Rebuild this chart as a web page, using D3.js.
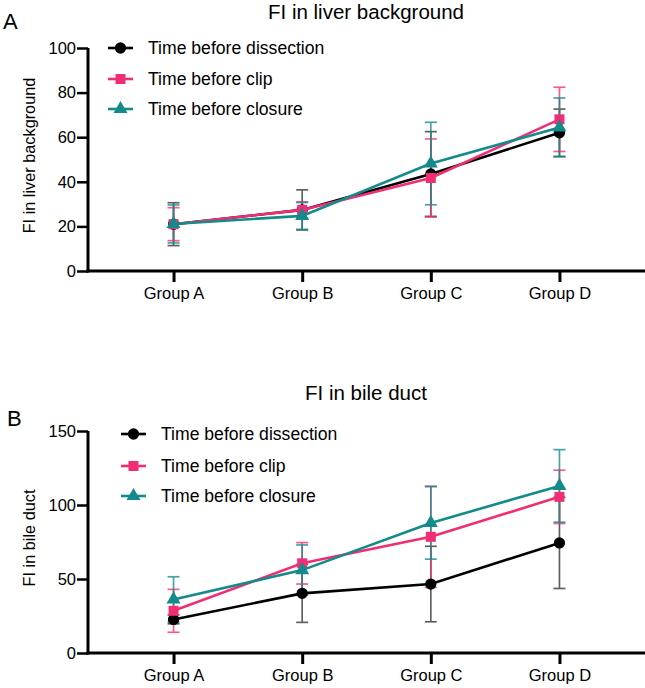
<!DOCTYPE html>
<html><head><meta charset="utf-8">
<script src="https://cdn.jsdelivr.net/npm/d3@7"></script>
<style>body{margin:0;background:#fff}svg{display:block}text{font-family:"Liberation Sans",Arial,sans-serif}</style>
</head><body>
<svg id="chart" width="645" height="688"></svg>
<script>
const groups = ["Group A", "Group B", "Group C", "Group D"];
const seriesNames = ["Time before dissection", "Time before clip", "Time before closure"];
const seriesColors = ["#000000", "#f12e73", "#148a8b"];

// Panel A: FI in liver background (mean, SD)
const liverDissectionMean = [21, 27.4, 43.5, 62];
const liverDissectionSD   = [9.6, 9, 19, 10.6];
const liverClipMean       = [21, 27.4, 41.7, 68];
const liverClipSD         = [7.4, 3.6, 17.5, 14.4];
const liverClosureMean    = [21.1, 24.7, 48.2, 64.4];
const liverClosureSD      = [8.5, 6, 18.5, 13.2];
const liverTicks = [0, 20, 40, 60, 80, 100];

// Panel B: FI in bile duct (mean, SD)
const bileDissectionMean = [22.7, 40.3, 46.6, 74.4];
const bileDissectionSD   = [3, 19.6, 25.5, 30.8];
const bileClipMean       = [28.5, 60.6, 78.5, 105.5];
const bileClipSD         = [14.5, 14, 34.2, 18];
const bileClosureMean    = [36.2, 56, 87.9, 112.9];
const bileClosureSD      = [15.3, 17, 24.5, 24.5];
const bileTicks = [0, 50, 100, 150];

const svg = d3.select("#chart");

function drawPanel(cfg) {
  const g = svg.append("g");
  const x = d3.scalePoint().domain(groups).range([88, 645]).padding(0.665);
  const y = d3.scaleLinear().domain([0, cfg.ymax]).range([cfg.y0, cfg.y1]);

  g.append("text").attr("x", cfg.letterX).attr("y", cfg.letterY)
    .attr("font-size", 22).text(cfg.letter);
  g.append("text").attr("x", 366).attr("y", cfg.titleY).attr("text-anchor", "middle")
    .attr("font-size", 20.5).text(cfg.title);
  g.append("text").attr("transform", `translate(35,${(cfg.y0 + cfg.y1) / 2 - 4}) rotate(-90)`)
    .attr("text-anchor", "middle").attr("font-size", 16.3).text(cfg.ytitle);

  const yAxis = d3.axisLeft(y).tickValues(cfg.ticks).tickSize(11).tickPadding(1).tickSizeOuter(0);
  const ya = g.append("g").attr("transform", "translate(88,0)").call(yAxis);
  ya.select(".domain").attr("stroke-width", 3).attr("d", `M0,${cfg.y0 + 1.5}V${cfg.y1}`);
  ya.selectAll(".tick line").attr("stroke-width", 2.5);
  ya.selectAll(".tick text").attr("font-size", 16.5).attr("fill", "#000").attr("font-family", "Liberation Sans, Arial, sans-serif");

  const xAxis = d3.axisBottom(x).tickSize(11).tickPadding(5).tickSizeOuter(0);
  const xa = g.append("g").attr("transform", `translate(0,${cfg.y0})`).call(xAxis);
  xa.select(".domain").attr("stroke-width", 3).attr("d", "M86.5,0H645");
  xa.selectAll(".tick line").attr("stroke-width", 3);
  xa.selectAll(".tick text").attr("font-size", 16.5).attr("fill", "#000").attr("font-family", "Liberation Sans, Arial, sans-serif");

  const symbols = [d3.symbolCircle, d3.symbolSquare, d3.symbolTriangle];
  const sizes = [100, 100, 85];

  cfg.series.forEach((s, si) => {
    const col = seriesColors[si];
    const barCol = si === 0 ? "#333" : col;
    const eb = g.append("g").attr("stroke", barCol).attr("stroke-width", 1.7).attr("opacity", 0.78);
    s.mean.forEach((m, i) => {
      const cx = x(groups[i]);
      const top = y(m + s.sd[i]), bot = y(m - s.sd[i]);
      eb.append("line").attr("x1", cx).attr("x2", cx).attr("y1", top).attr("y2", bot);
      eb.append("line").attr("x1", cx - 6).attr("x2", cx + 6).attr("y1", top).attr("y2", top);
      eb.append("line").attr("x1", cx - 6).attr("x2", cx + 6).attr("y1", bot).attr("y2", bot);
    });
  });
  cfg.series.forEach((s, si) => {
    const col = seriesColors[si];
    const line = d3.line().x((d, i) => x(groups[i])).y(d => y(d));
    g.append("path").datum(s.mean).attr("d", line).attr("fill", "none")
      .attr("stroke", col).attr("stroke-width", 2.6);
    g.selectAll(null).data(s.mean).enter().append("path")
      .attr("transform", (d, i) => `translate(${x(groups[i])},${y(d)})`)
      .attr("d", d3.symbol(symbols[si], sizes[si])).attr("fill", col);
  });

  seriesNames.forEach((name, si) => {
    const ly = cfg.legY[si];
    const col = seriesColors[si];
    g.append("line").attr("x1", cfg.legX).attr("x2", cfg.legX + 25).attr("y1", ly).attr("y2", ly)
      .attr("stroke", col).attr("stroke-width", 2.6);
    g.append("path").attr("transform", `translate(${cfg.legX + 12.5},${ly})`)
      .attr("d", d3.symbol(symbols[si], sizes[si])).attr("fill", col);
    g.append("text").attr("x", cfg.legX + 40).attr("y", ly + 6.2)
      .attr("font-size", 17.6).text(name);
  });
}

drawPanel({
  letter: "A", letterX: 3, letterY: 29, title: "FI in liver background", titleY: 19,
  ytitle: "FI in liver background", ymax: 100, y0: 271, y1: 48, ticks: liverTicks,
  legX: 108, legY: [48, 79, 109],
  series: [
    {mean: liverDissectionMean, sd: liverDissectionSD},
    {mean: liverClipMean, sd: liverClipSD},
    {mean: liverClosureMean, sd: liverClosureSD}
  ]
});

drawPanel({
  letter: "B", letterX: 7, letterY: 426, title: "FI in bile duct", titleY: 400,
  ytitle: "FI in bile duct", ymax: 150, y0: 653, y1: 431, ticks: bileTicks,
  legX: 121, legY: [434, 466, 496],
  series: [
    {mean: bileDissectionMean, sd: bileDissectionSD},
    {mean: bileClipMean, sd: bileClipSD},
    {mean: bileClosureMean, sd: bileClosureSD}
  ]
});
</script>
</body></html>
